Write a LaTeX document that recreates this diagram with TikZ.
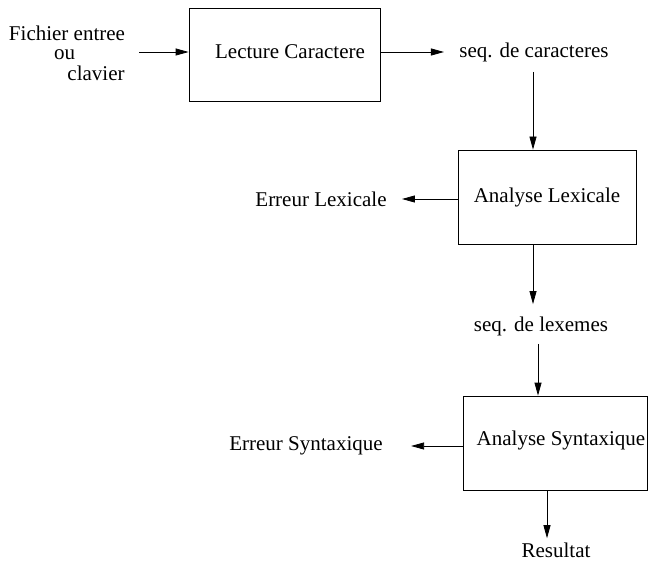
\documentclass[tikz,border=0pt]{standalone}
\usepackage{fontspec}
\setmainfont{Liberation Serif}
\usetikzlibrary{arrows.meta}

\begin{document}
\begin{tikzpicture}[x=1pt, y=-1pt, line width=0.8pt,
  every node/.style={font=\fontsize{21}{25}\selectfont, inner sep=0pt},
  bloc/.style={draw, rectangle, inner sep=0pt},
  fleche/.style={-{Triangle[length=13pt, width=7pt]}}]
  \useasboundingbox (0,0) rectangle (650,564);
  \node (fichier) at (67,33) {Fichier entree};
  \node (ou) at (64.5,55) {ou};
  \node (clavier) at (96,73) {clavier};
  \coordinate (src) at (139,52);
  \node[bloc, minimum width=191pt, minimum height=93pt] (lecture) at (284.5,54.5) {};
  \node (lecturetxt) at (290,52) {Lecture Caractere};
  \node (seqcar) at (534,52) {seq. de caracteres};
  \node[bloc, minimum width=178pt, minimum height=94pt] (lexical) at (547,197) {Analyse Lexicale};
  \node (errlex) at (321,199) {Erreur Lexicale};
  \node (seqlex) at (541,326) {seq. de lexemes};
  \node[bloc, minimum width=184pt, minimum height=94pt] (syntax) at (555,443) {};
  \node (syntaxtxt) at (561,440) {Analyse Syntaxique};
  \node (errsyn) at (306,446) {Erreur Syntaxique};
  \node (resultat) at (556,550) {Resultat};
  \draw[fleche] (src) -- (src -| lecture.west);
  \draw[fleche] (src -| lecture.east) -- ([xshift=-15pt]seqcar.west);
  \draw[fleche] ([xshift=-1pt, yshift=-10pt]seqcar.south) coordinate (a1) -- (a1 |- lexical.north);
  \draw[fleche] (lexical.west |- errlex) -- ([xshift=15pt]errlex.east);
  \draw[fleche, shorten >=12pt] ([xshift=-14pt]lexical.south) coordinate (a2) -- (a2 |- seqlex.north);
  \draw[fleche] ([xshift=-3pt, yshift=-8pt]seqlex.south) coordinate (a3) -- (a3 |- syntax.north);
  \draw[fleche] (syntax.west |- errsyn) -- ([xshift=28pt]errsyn.east);
  \draw[fleche, shorten >=4pt] ([xshift=-8pt]syntax.south) coordinate (a4) -- (a4 |- resultat.north);
\end{tikzpicture}
\end{document}
